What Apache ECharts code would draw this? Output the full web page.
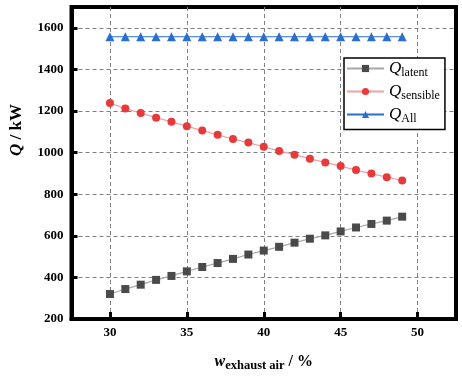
<!DOCTYPE html>
<html>
<head>
<meta charset="utf-8">
<script src="https://cdn.jsdelivr.net/npm/echarts@6/dist/echarts.min.js"></script>
<style>
html,body{margin:0;padding:0;background:#fff;}
#chart{width:462px;height:377px;}
</style>
</head>
<body>
<div id="chart"></div>
<script>
var xValues = [30,31,32,33,34,35,36,37,38,39,40,41,42,43,44,45,46,47,48,49];
var latent = [320,344,365,388,407,429,450,469,489,510,529,547,567,586,602,621,640,657,673,692];
var sensible = [1238,1212,1190,1168,1148,1127,1106,1086,1065,1048,1028,1008,990,970,953,935,916,899,882,866];
var allQ = [1557,1557,1557,1557,1557,1557,1557,1557,1557,1557,1557,1557,1557,1557,1557,1557,1557,1557,1557,1557];
var xTicks = [30,35,40,45,50];
var yTicks = [200,400,600,800,1000,1200,1400,1600];
var seriesNames = ['latent','sensible','All'];

var SERIF = '"Liberation Serif","Times New Roman",serif';
function pairs(ys){ return xValues.map(function(x,i){ return [x, ys[i]]; }); }

var chart = echarts.init(document.getElementById('chart'), null, {renderer:'canvas'});
chart.setOption({
  animation:false,
  backgroundColor:'#fff',
  grid:{left:67,right:6,top:7,bottom:54,show:true,borderColor:'#000',borderWidth:4,containLabel:false},
  legend:{
    orient:'vertical',left:344,top:58,
    data:seriesNames,
    itemWidth:37,itemHeight:9,itemGap:4.5,
    padding:[2,5,5,2],
    borderColor:'#000',borderWidth:1.5,backgroundColor:'#fff',
    formatter:function(n){ return '{q|Q}{s|'+n+'}'; },
    textStyle:{
      fontFamily:SERIF,color:'#000',
      rich:{
        q:{fontFamily:SERIF,fontStyle:'italic',fontSize:17,lineHeight:20,color:'#000'},
        s:{fontFamily:SERIF,fontSize:12,lineHeight:8,verticalAlign:'bottom',color:'#000'}
      }
    }
  },
  xAxis:{
    type:'value',min:27.5,max:52.5,
    name:'{w|w}{s|exhaust air}{n| / %}',
    nameLocation:'middle',nameGap:33,
    nameTextStyle:{
      rich:{
        w:{fontFamily:SERIF,fontStyle:'italic',fontWeight:'bold',fontSize:16,lineHeight:20,color:'#000'},
        s:{fontFamily:SERIF,fontWeight:'bold',fontSize:12.5,lineHeight:8,verticalAlign:'bottom',color:'#000'},
        n:{fontFamily:SERIF,fontWeight:'bold',fontSize:16,lineHeight:20,color:'#000'}
      }
    },
    axisLine:{show:true,onZero:false,lineStyle:{color:'#000',width:4}},
    axisTick:{show:true,inside:true,length:7,customValues:xTicks,lineStyle:{color:'#000',width:3}},
    axisLabel:{customValues:xTicks,margin:7,fontFamily:SERIF,fontWeight:'bold',fontSize:13,color:'#000',
      formatter:function(v){ return String(v); }},
    splitLine:{show:true,lineStyle:{color:'#808080',width:1,type:[4,3]}}
  },
  yAxis:{
    type:'value',min:200,max:1700,
    name:'{q|Q}{n| / kW}',
    nameLocation:'middle',nameGap:45,
    nameTextStyle:{
      padding:[0,0,0,66],
      rich:{
        q:{fontFamily:SERIF,fontStyle:'italic',fontWeight:'bold',fontSize:17,lineHeight:20,color:'#000'},
        n:{fontFamily:SERIF,fontWeight:'bold',fontSize:17,lineHeight:20,color:'#000'}
      }
    },
    axisLine:{show:true,onZero:false,lineStyle:{color:'#000',width:4}},
    axisTick:{show:true,inside:true,length:6,customValues:yTicks,lineStyle:{color:'#000',width:3}},
    axisLabel:{customValues:yTicks,margin:8,fontFamily:SERIF,fontWeight:'bold',fontSize:13,color:'#000',
      formatter:function(v){ return String(v); }},
    splitLine:{show:true,lineStyle:{color:'#808080',width:1,type:[4,3]}}
  },
  series:[
    {name:'latent',type:'line',data:pairs(latent),symbol:'rect',symbolSize:8,
     itemStyle:{color:'#4a4a4a'},lineStyle:{color:'#a8a8a8',width:1.2}},
    {name:'sensible',type:'line',data:pairs(sensible),symbol:'circle',symbolSize:8,
     itemStyle:{color:'#e8393b'},lineStyle:{color:'#f0a0a0',width:1.2}},
    {name:'All',type:'line',data:pairs(allQ),symbol:'triangle',symbolSize:9,
     itemStyle:{color:'#2a6fd0'},lineStyle:{color:'#2a6fd0',width:1.2}}
  ]
});
</script>
</body>
</html>
